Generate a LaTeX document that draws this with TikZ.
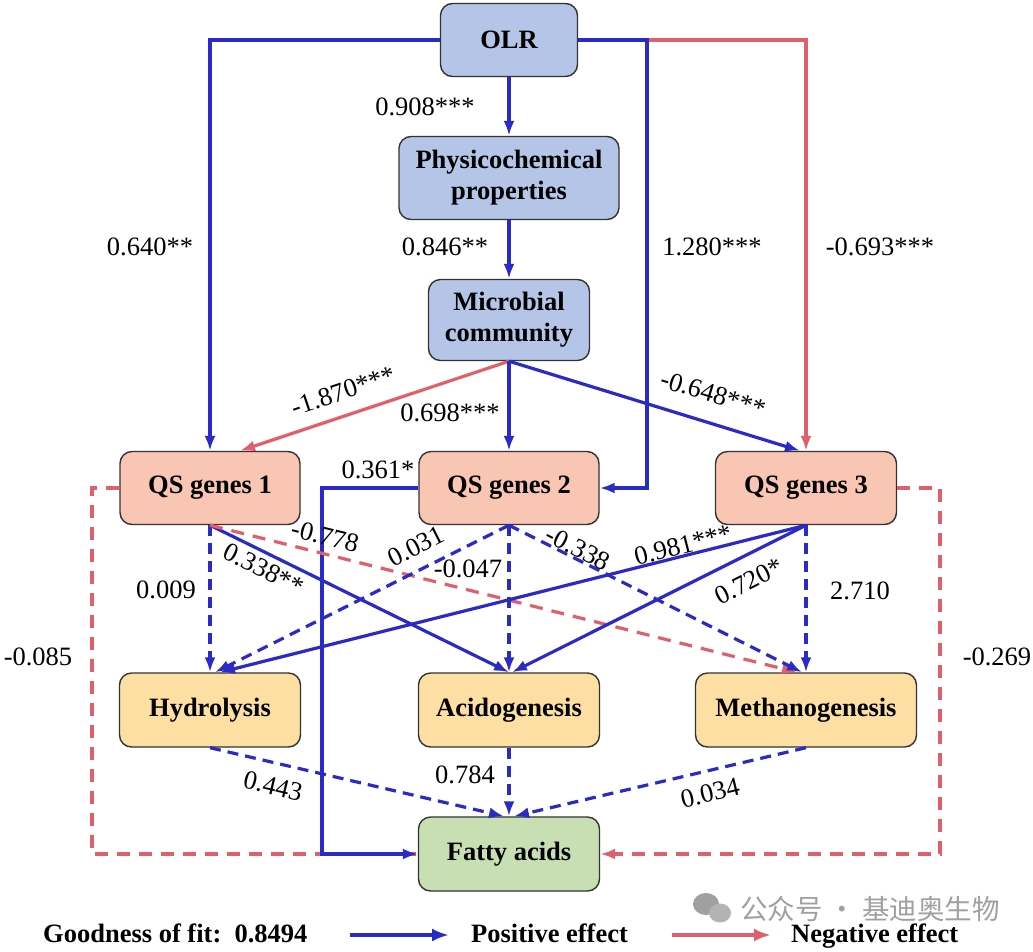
\documentclass[tikz,border=0pt]{standalone}
\usepackage{fontspec}
\setmainfont{Liberation Serif}
\newfontfamily\cjkfont{Noto Sans CJK SC}
\usetikzlibrary{arrows.meta,calc}
\definecolor{pblue}{HTML}{2A2AC6}
\definecolor{pred}{HTML}{E05F6D}
\definecolor{boxblue}{HTML}{B4C5E8}
\definecolor{boxsalmon}{HTML}{F9C6B3}
\definecolor{boxyellow}{HTML}{FDDFA3}
\definecolor{boxgreen}{HTML}{C8DFB3}
\definecolor{boxline}{HTML}{333333}
\definecolor{wmgray}{HTML}{A0A0A0}
\begin{document}
\begin{tikzpicture}[x=1pt,y=-1pt,
  box/.style={draw=boxline, line width=1.4pt, rounded corners=12pt, align=center,
    font=\fontsize{26.5}{31}\selectfont\bfseries, inner sep=0pt},
  posline/.style={draw=pblue, line width=3.2pt, -{Latex[length=15pt,width=11pt]}},
  negline/.style={draw=pred, line width=3.2pt, -{Latex[length=15pt,width=11pt]}},
  bdsh/.style={dash pattern=on 11pt off 7pt},
  rdsh/.style={dash pattern=on 13pt off 9pt},
  lab/.style={font=\fontsize{26.5}{31}\selectfont, inner sep=0pt},
  leg/.style={font=\fontsize{26.5}{31}\selectfont\bfseries, inner sep=0pt},
  legarrow/.style={line width=3.8pt, -{Latex[length=17pt,width=13pt]}},
]
\useasboundingbox[fill=white] (0,0) rectangle (1033,951);

% nodes
\node[box, fill=boxblue, minimum width=137pt, minimum height=73pt] (olr) at (509,40) {OLR};
\node[box, fill=boxblue, minimum width=220pt, minimum height=83pt] (phys) at (509,178) {Physicochemical\\properties};
\node[box, fill=boxblue, minimum width=161pt, minimum height=81pt] (micro) at (509,320) {Microbial\\community};
\node[box, fill=boxsalmon, minimum width=180pt, minimum height=73pt] (qs1) at (210,488) {QS genes 1};
\node[box, fill=boxsalmon, minimum width=180pt, minimum height=73pt] (qs2) at (509,488) {QS genes 2};
\node[box, fill=boxsalmon, minimum width=181pt, minimum height=73pt] (qs3) at (806,488) {QS genes 3};
\node[box, fill=boxyellow, minimum width=181pt, minimum height=74pt] (hyd) at (210,710) {Hydrolysis};
\node[box, fill=boxyellow, minimum width=181pt, minimum height=74pt] (aci) at (509,710) {Acidogenesis};
\node[box, fill=boxyellow, minimum width=221pt, minimum height=74pt] (met) at (806,710) {Methanogenesis};
\node[box, fill=boxgreen, minimum width=181pt, minimum height=74pt] (fa) at (509,854) {Fatty acids};

% coordinates for bends
\coordinate (jr) at (647,40);
\coordinate (qb) at (322,488);
\coordinate (ql) at (92,488);
\coordinate (qr) at (940,488);

% OLR paths
\draw[negline] (jr) -| (qs3.north);
\draw[posline] (olr.east) -- (jr) |- (qs2.east);
\draw[posline] (olr.west) -| (qs1.north);
\draw[posline] (olr.south) -- (phys.north);
\draw[posline] (phys.south) -- (micro.north);

% microbial community
\draw[negline] (micro.south) -- ($(qs1.north)+(30,0)$);
\draw[posline] (micro.south) -- (qs2.north);
\draw[posline] (micro.south) -- ($(qs3.north)+(-6,0)$);

% side dashed red and QS2 -> FA
\draw[negline, rdsh, -] (qs1.west) -- (ql) |- (fa.west);
\draw[negline, rdsh] (qs3.east) -- (qr) |- (fa.east);
\draw[posline] (qs2.west) -- (qb) |- (fa.west);

% QS1
\draw[posline, bdsh] (qs1.south) -- (hyd.north);
\draw[posline] (qs1.south) -- (aci.north);
\draw[negline, rdsh] (qs1.south) -- ($(met.north)+(-9,0)$);
% QS2
\draw[posline, bdsh] (qs2.south) -- ($(hyd.north)+(5,0)$);
\draw[posline, bdsh] (qs2.south) -- (aci.north);
\draw[posline, bdsh] (qs2.south) -- ($(met.north)+(-4,0)$);
% QS3
\draw[posline] (qs3.south) -- ($(hyd.north)+(10,0)$);
\draw[posline] (qs3.south) -- ($(aci.north)+(3,0)$);
\draw[posline, bdsh] (qs3.south) -- (met.north);
% to FA
\draw[posline, bdsh] (hyd.south) -- ($(fa.north)+(-5,0)$);
\draw[posline, bdsh] (aci.south) -- (fa.north);
\draw[posline, bdsh] (met.south) -- ($(fa.north)+(5,0)$);

% labels
\node[lab] (l1) at (425,107) {0.908***};
\node[lab] (l2) at (150,247) {0.640**};
\node[lab] (l3) at (445,247) {0.846**};
\node[lab] (l4) at (712,247) {1.280***};
\node[lab] (l5) at (880,247) {-0.693***};
\node[lab, rotate=18.5] (l6) at (343,391) {-1.870***};
\node[lab] (l7) at (450,413) {0.698***};
\node[lab, rotate=-17] (l8) at (713,394) {-0.648***};
\node[lab] (l9) at (378,470) {0.361*};
\node[lab, rotate=-14] (l10) at (325,536) {-0.778};
\node[lab, rotate=-26.6] (l11) at (264,569) {0.338**};
\node[lab] (l12) at (166,590) {0.009};
\node[lab, rotate=26.8] (l13) at (416,546) {0.031};
\node[lab] (l14) at (468,569) {-0.047};
\node[lab, rotate=-26.7] (l15) at (578,548) {-0.338};
\node[lab, rotate=14.2] (l16) at (683,545) {0.981***};
\node[lab, rotate=26.8] (l17) at (749,581) {0.720*};
\node[lab] (l18) at (860,591) {2.710};
\node[lab] (l19) at (38,657) {-0.085};
\node[lab] (l20) at (997,657) {-0.269};
\node[lab, rotate=-13.3] (l21) at (273,786) {0.443};
\node[lab] (l22) at (465,775) {0.784};
\node[lab, rotate=13.5] (l23) at (710,793) {0.034};

% legend
\node[leg, anchor=base west] (gof) at (43,942) {Goodness of fit:\ \ 0.8494};
\coordinate (pb1) at (350,935);
\coordinate (pb2) at (449,935);
\draw[posline, legarrow] (pb1) -- (pb2);
\node[leg, anchor=base west] (pe) at (471,942) {Positive effect};
\coordinate (nb1) at (672,935);
\coordinate (nb2) at (771,935);
\draw[negline, legarrow] (nb1) -- (nb2);
\node[leg, anchor=base west] (ne) at (791,942) {Negative effect};

% watermark
\fill[wmgray] (706,904) ellipse (13pt and 11pt);
\fill[wmgray!80] (720,913) ellipse (11pt and 9.5pt);
\node[font=\cjkfont\fontsize{27.5}{30}\selectfont, text=wmgray, inner sep=0pt] (wm) at (870,909) {公众号 · 基迪奥生物};
\end{tikzpicture}
\end{document}
